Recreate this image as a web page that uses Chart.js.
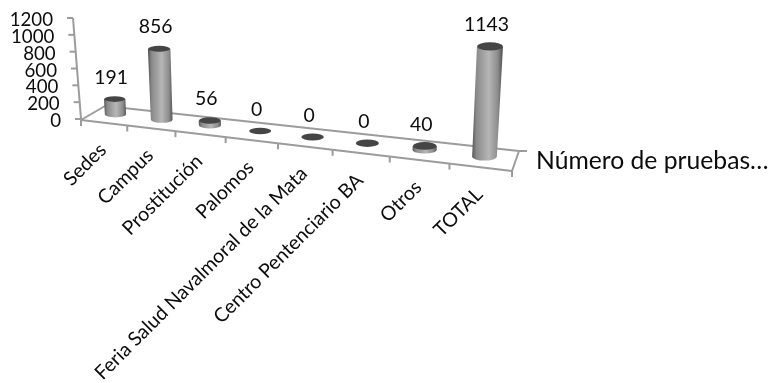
<!DOCTYPE html>
<html>
<head>
<meta charset="utf-8">
<title>Número de pruebas</title>
<script src="https://cdn.jsdelivr.net/npm/chart.js@4/dist/chart.umd.min.js"></script>
<style>
  html, body { margin: 0; background: #fff; }
  #box { position: relative; width: 769px; height: 383px; }
</style>
</head>
<body>
<div id="box"><canvas id="chart"></canvas></div>
<script>
const categories = ['Sedes', 'Campus', 'Prostitución', 'Palomos', 'Feria Salud Navalmoral de la Mata', 'Centro Pentenciario BA', 'Otros', 'TOTAL'];
const pruebas = [191, 856, 56, 0, 0, 0, 40, 1143];
const yMax = 1200;
const yStep = 200;
const seriesName = 'Número de pruebas…';

const FONT = 'Lato, "Noto Sans", sans-serif';
const AXIS = '#9c9c9c';
const TEXT = '#0c0c0c';

// floor of the 3D box, front and back edges
const frontL = [81, 120], frontR = [512, 171];
const backL = [105, 106], backR = [519, 151];
const WARP = 1.188;

const lerp = (a, b, k) => a + (b - a) * k;
const warp = t => t / (t + WARP * (1 - t));

// t runs along the category axis, d from the front edge to the back edge
function floorPoint(t, d) {
    const s = warp(t);
    const fx = lerp(frontL[0], frontR[0], s), fy = lerp(frontL[1], frontR[1], s);
    const bx = lerp(backL[0], backR[0], s), by = lerp(backL[1], backR[1], s);
    return [lerp(fx, bx, d), lerp(fy, by, d)];
}

function line(ctx, x1, y1, x2, y2) {
    ctx.beginPath();
    ctx.moveTo(x1, y1);
    ctx.lineTo(x2, y2);
    ctx.stroke();
}

function drawBox(ctx, chart) {
    const xs = chart.scales.x, ys = chart.scales.y;
    ctx.strokeStyle = AXIS;
    ctx.lineWidth = 2;
    ctx.lineJoin = 'round';

    ctx.beginPath();
    ctx.moveTo(...frontL);
    ctx.lineTo(...backL);
    ctx.lineTo(...backR);
    ctx.lineTo(...frontR);
    ctx.closePath();
    ctx.stroke();
    line(ctx, backR[0], backR[1], backR[0] + 8, backR[1]);

    // category ticks below the front edge
    categories.forEach((c, i) => {
        const t = (xs.getPixelForValue(i - 0.5) - xs.left) / xs.width;
        const p = floorPoint(t, 0);
        line(ctx, p[0], p[1], p[0], p[1] + 6);
    });
    line(ctx, frontR[0], frontR[1], frontR[0], frontR[1] + 6);

    // value axis leans back towards the top
    const lean = 8 / (ys.bottom - ys.top);
    line(ctx, frontL[0], ys.bottom - 1, frontL[0] - (ys.bottom - ys.top) * lean, ys.top - 1);

    ctx.font = '18.7px ' + FONT;
    ctx.fillStyle = TEXT;
    ctx.textAlign = 'right';
    ctx.textBaseline = 'middle';
    ys.ticks.forEach((tick, i) => {
        const y = ys.getPixelForTick(i);
        const ax = frontL[0] - (ys.bottom - y) * lean;
        line(ctx, ax - 6, y - 1, ax, y - 1);
        ctx.fillText(String(tick.value), ax - 20, y + 1);
    });
}

function ellipse(ctx, x, y, w, h) {
    ctx.beginPath();
    ctx.ellipse(x, y, w / 2, h / 2, 0, 0, Math.PI * 2);
}

function drawCylinder(ctx, chart, i, bar) {
    const xs = chart.scales.x;
    const t = (bar.x - xs.left) / xs.width;
    const s = warp(t);
    const p = floorPoint(t, 0.5);
    const bx = p[0], by = p[1] - 1;

    // nearer columns come out taller and wider
    const grow = 0.96 + i * 0.0263;
    const h = (bar.base - bar.y) * grow;
    const tx = bx + h * (bx - 298) * 0.000267;
    const ty = by - h;
    const w = 21 + s * 4;
    const eh = 5.5 + s * 3;
    const wTop = w + h * 0.012;

    if (h > 0.5) {
        const grad = ctx.createLinearGradient(Math.min(bx, tx) - w / 2, 0, Math.max(bx, tx) + w / 2, 0);
        grad.addColorStop(0, '#565656');
        grad.addColorStop(0.14, '#8a8a8a');
        grad.addColorStop(0.55, '#b6b6b6');
        grad.addColorStop(0.85, '#8c8c8c');
        grad.addColorStop(1, '#565656');
        ctx.fillStyle = grad;
        ctx.beginPath();
        ctx.moveTo(tx - wTop / 2, ty);
        ctx.lineTo(tx + wTop / 2, ty);
        ctx.lineTo(bx + w / 2, by);
        ctx.ellipse(bx, by, w / 2, eh / 2, 0, 0, Math.PI);
        ctx.closePath();
        ctx.fill();
    }
    ctx.fillStyle = '#454545';
    ellipse(ctx, tx, ty, wTop - 0.5, eh);
    ctx.fill();

    ctx.font = '19.4px ' + FONT;
    ctx.fillStyle = TEXT;
    ctx.textAlign = 'center';
    ctx.textBaseline = 'middle';
    ctx.fillText(String(pruebas[i]), tx - 3.5, ty - 21.5);
}

function drawCategoryLabels(ctx, chart) {
    const xs = chart.scales.x;
    ctx.font = '19.6px ' + FONT;
    ctx.fillStyle = TEXT;
    ctx.textAlign = 'right';
    ctx.textBaseline = 'middle';
    categories.forEach((c, i) => {
        const t = (xs.getPixelForValue(i) - xs.left) / xs.width;
        const p = floorPoint(t, 0);
        ctx.save();
        ctx.translate(p[0] - 1, p[1] + 24);
        ctx.rotate(-Math.PI / 4);
        ctx.fillText(c, 0, 0);
        ctx.restore();
    });
}

const cylinders = {
    id: 'cylinders',
    afterDatasetsDraw(chart) {
        const ctx = chart.ctx;
        ctx.save();
        drawBox(ctx, chart);
        chart.getDatasetMeta(0).data.forEach((bar, i) => drawCylinder(ctx, chart, i, bar));
        drawCategoryLabels(ctx, chart);

        ctx.font = '24.7px ' + FONT;
        ctx.fillStyle = TEXT;
        ctx.textAlign = 'left';
        ctx.textBaseline = 'alphabetic';
        ctx.fillText(seriesName, 536, 168.5);
        ctx.restore();
    }
};

new Chart(document.getElementById('chart'), {
    type: 'bar',
    data: {
        labels: categories,
        datasets: [{ label: seriesName, data: pruebas, backgroundColor: 'transparent' }]
    },
    options: {
        responsive: true,
        maintainAspectRatio: false,
        animation: false,
        layout: { padding: { left: 81, right: 257, top: 19, bottom: 263 } },
        plugins: { legend: { display: false }, tooltip: { enabled: false } },
        scales: {
            x: { display: false },
            y: { display: false, min: 0, max: yMax, ticks: { stepSize: yStep, autoSkip: false } }
        }
    },
    plugins: [cylinders]
});
</script>
</body>
</html>
